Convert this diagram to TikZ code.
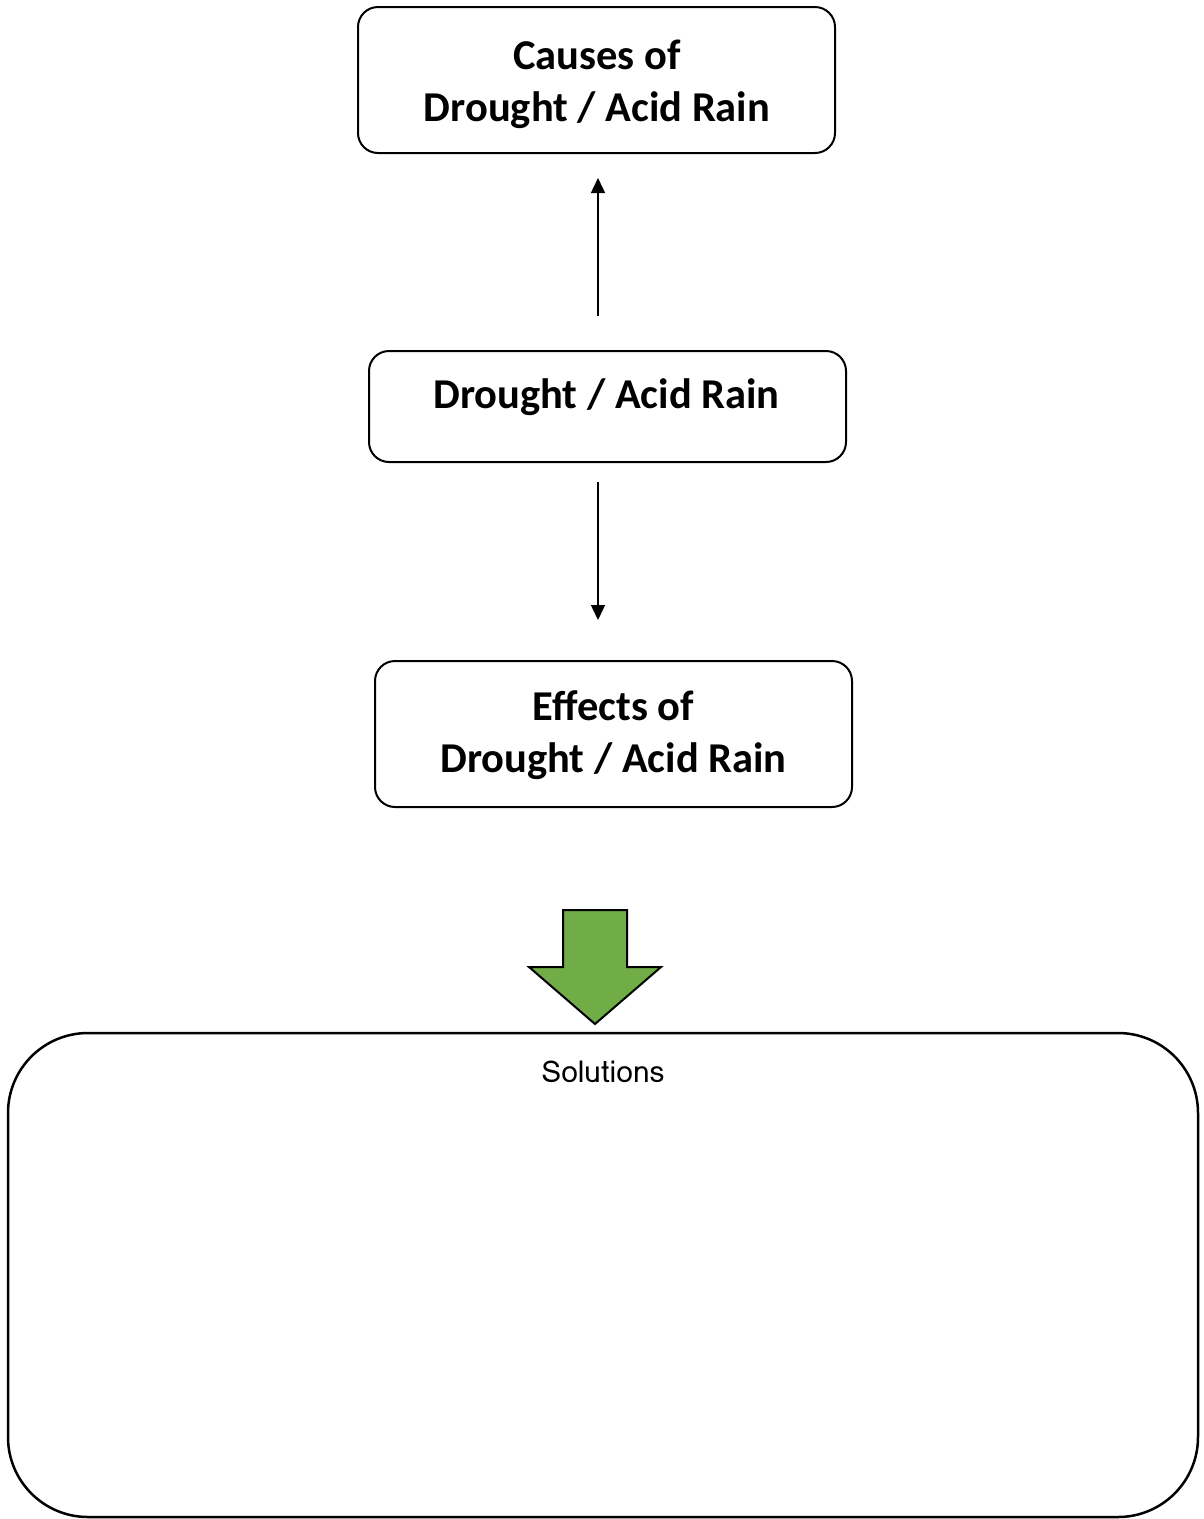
\documentclass[tikz,border=0pt]{standalone}
\usepackage{fontspec}
\setmainfont{Carlito}
\newfontfamily\solfont[Script=Thai]{Loma}
\usetikzlibrary{arrows.meta}
\definecolor{arrowgreen}{HTML}{70AD47}
\tikzset{
  boxshape/.style={draw=black, line width=2pt, rounded corners=20pt, minimum width=477pt, inner sep=0pt},
  titletext/.style={font=\fontsize{42.5}{52}\selectfont\bfseries, align=center, inner sep=0pt},
  thinarrow/.style={line width=1.5pt, -{Triangle[width=14pt,length=15pt]}},
}
\begin{document}
\begin{tikzpicture}[x=1pt,y=-1pt]
\useasboundingbox (0,0) rectangle (1203,1519);
% boxes
\node[boxshape, minimum height=146pt] (b1) at (596.5,80) {};
\node[titletext] (t1) at (597,84) {Causes of\\Drought / Acid Rain};
\node[boxshape, minimum height=111pt] (b2) at (607.5,406.5) {};
\node[titletext] (t2) at (606.5,397) {Drought / Acid Rain};
\node[boxshape, minimum height=146pt] (b3) at (613.5,734) {};
\node[titletext] (t3) at (613.5,735) {Effects of\\Drought / Acid Rain};
% thin arrows
\coordinate (a1s) at (598,316);
\coordinate (a1e) at (598,178);
\coordinate (a2s) at (598,482);
\coordinate (a2e) at (598,620);
\draw[thinarrow] (a1s) -- (a1e);
\draw[thinarrow] (a2s) -- (a2e);
% green block arrow
\draw[fill=arrowgreen, line width=2pt, line join=miter]
  (563,910) -- (627,910) -- (627,967) -- (661,967) -- (595,1024) -- (529,967) -- (563,967) -- cycle;
% solutions box
\node[draw=black, line width=2.5pt, rounded corners=80pt, minimum width=1190pt, minimum height=484pt, inner sep=0pt] (sol) at (603,1275) {};
\node[font=\solfont\fontsize{30}{36}\selectfont, inner sep=0pt] (soltext) at (603,1072) {Solutions};
\end{tikzpicture}
\end{document}
